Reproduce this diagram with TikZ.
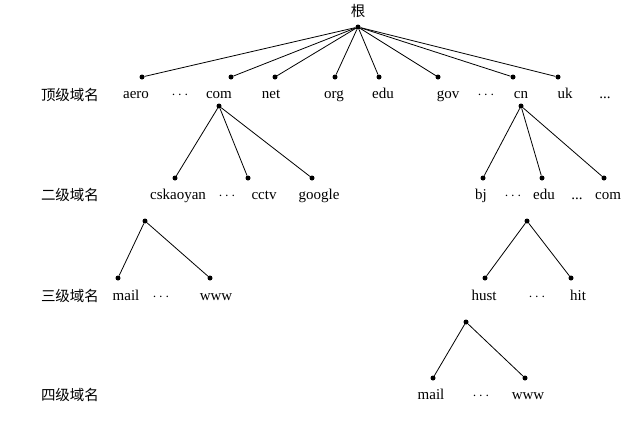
\documentclass[tikz,border=0pt]{standalone}
\usepackage{fontspec}
\setmainfont{Liberation Serif}
\newfontfamily\cjk{Noto Sans CJK SC}
\begin{document}
\begin{tikzpicture}[x=1pt,y=-1pt,
  dot/.style={circle,fill=black,inner sep=0pt,minimum size=5pt},
  lbl/.style={font=\fontsize{15}{17}\selectfont,inner sep=0pt,anchor=base},
  lvl/.style={font=\cjk\fontsize{14.5}{17}\selectfont,inner sep=0pt,anchor=base},
  edge/.style={line width=0.8pt}]
\useasboundingbox (0,0) rectangle (643,421);
\node[lvl] (r) at (358,16) {根};
\node[dot] (rd) at (358,27) {};
\node[lvl] (l1) at (70,100) {顶级域名};
\node[lvl] (l2) at (70,200) {二级域名};
\node[lvl] (l3) at (70,301) {三级域名};
\node[lvl] (l4) at (70,400) {四级域名};
% top level
\foreach \n/\dx/\lx/\t in {aero/142/136/aero, com/231/219/com, net/275/271/net, org/335/334/org, edu/379/383/edu, gov/438/448/gov, cn/513/521/cn, uk/558/565/uk}{
  \node[dot] (\n d) at (\dx,77) {};
  \node[lbl] (\n) at (\lx,98) {\t};
  \draw[edge] (rd) -- (\n d);
}
\node[lbl] (e1) at (180,98) {$\cdots$};
\node[lbl] (e2) at (486,98) {$\cdots$};
\node[lbl] (e3) at (605,98) {...};
\node[dot] (comb) at (219,106) {};
\node[dot] (cnb) at (521,106) {};
% second level
\foreach \n/\dx/\lx/\t/\p in {csk/175/178/cskaoyan/comb, cctv/248/264/cctv/comb, goog/312/319/google/comb, bj/483/481/bj/cnb, edu2/542/544/edu/cnb, com2/604/608/com/cnb}{
  \node[dot] (\n d) at (\dx,178) {};
  \node[lbl] (\n) at (\lx,199) {\t};
  \draw[edge] (\p) -- (\n d);
}
\node[lbl] (e4) at (227,199) {$\cdots$};
\node[lbl] (e5) at (513,199) {$\cdots$};
\node[lbl] (e6) at (577,199) {...};
\node[dot] (cskb) at (145,221) {};
\node[dot] (edub) at (527,221) {};
% third
\foreach \n/\dx/\lx/\t/\p in {mail/118/126/mail/cskb, www/210/216/www/cskb, hust/485/484/hust/edub, hit/571/578/hit/edub}{
  \node[dot] (\n d) at (\dx,278) {};
  \node[lbl] (\n) at (\lx,300) {\t};
  \draw[edge] (\p) -- (\n d);
}
\node[lbl] (e7) at (161,300) {$\cdots$};
\node[lbl] (e8) at (537,300) {$\cdots$};
\node[dot] (hustb) at (466,322) {};
% fourth
\foreach \n/\dx/\lx/\t/\p in {mail2/433/431/mail/hustb, www2/525/528/www/hustb}{
  \node[dot] (\n d) at (\dx,378) {};
  \node[lbl] (\n) at (\lx,399) {\t};
  \draw[edge] (\p) -- (\n d);
}
\node[lbl] (e9) at (481,399) {$\cdots$};
\end{tikzpicture}
\end{document}
